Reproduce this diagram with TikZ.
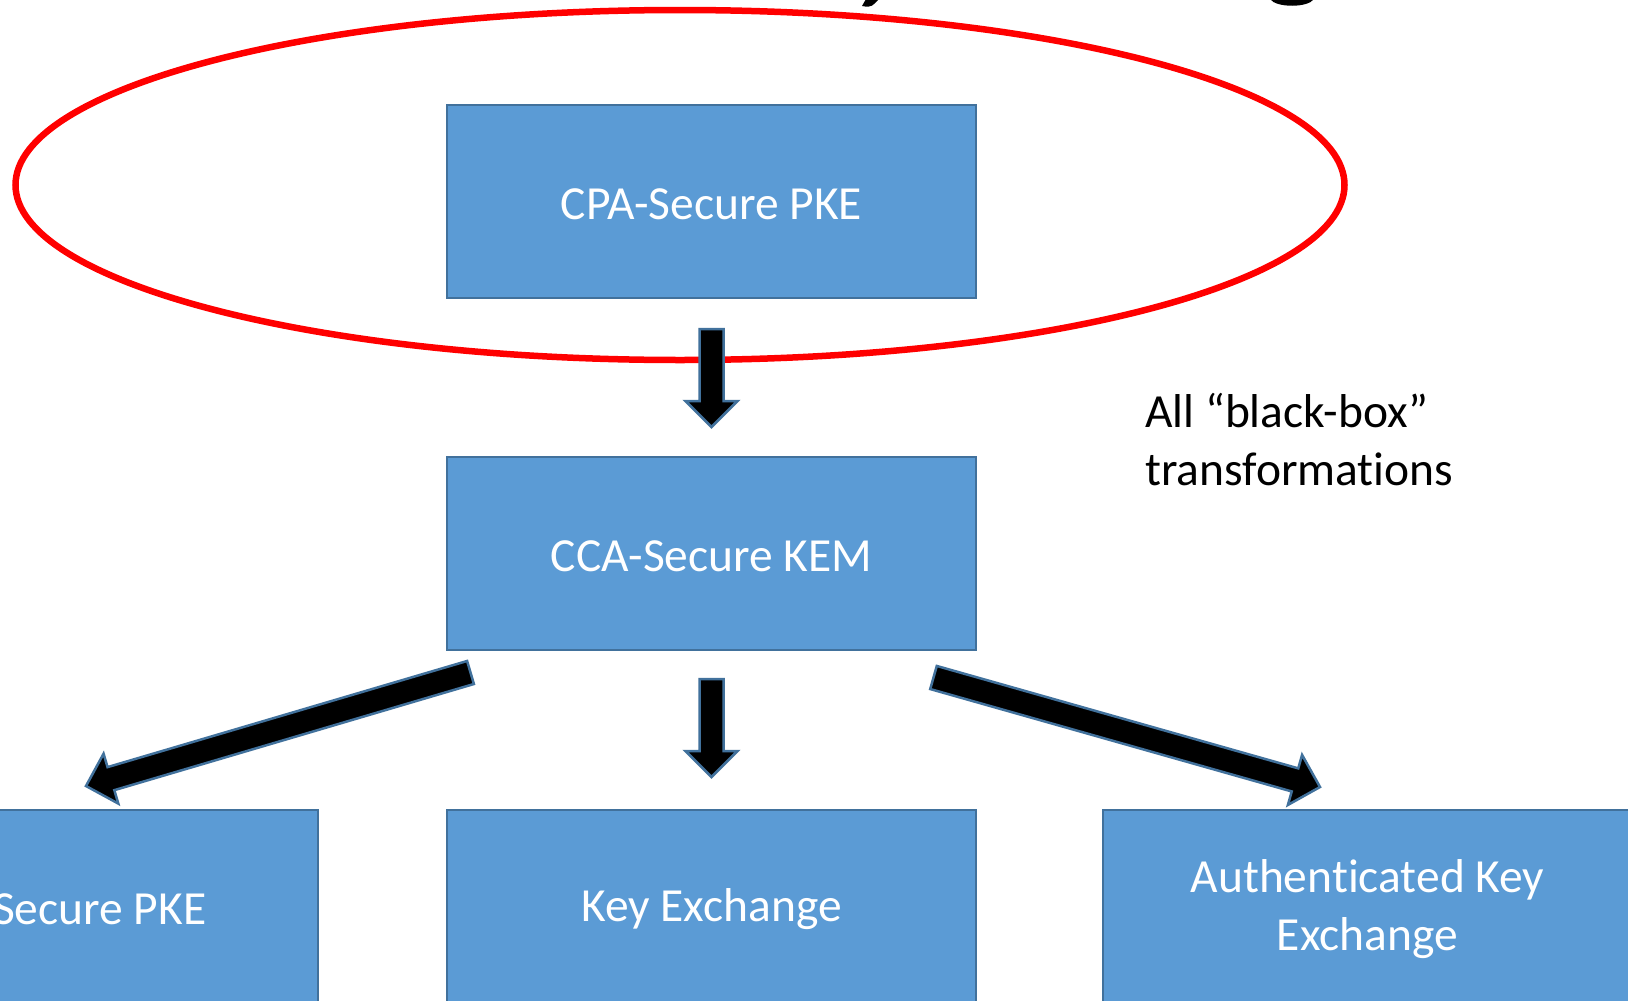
\documentclass[tikz,border=0pt]{standalone}
\usepackage{fontspec}
\setmainfont{Carlito}[Ligatures=NoCommon]
\usetikzlibrary{calc}

\definecolor{boxblue}{HTML}{5B9BD5}
\definecolor{edgeblue}{HTML}{41719C}

% lower a line of text a little while keeping its box size
\newcommand\lowered[1]{\raisebox{-3pt}[\height][\depth]{#1}}

\tikzset{
  stage/.style={rectangle, fill=boxblue, draw=edgeblue, line width=2pt,
    minimum width=529pt, minimum height=193pt, inner sep=0pt,
    text=white, align=center, font=\fontsize{47.5}{58}\selectfont},
  fatarrow/.style={fill=black, draw=edgeblue, line width=2.5pt, line join=miter},
  note/.style={inner sep=0pt, align=left, text=black,
    font=\fontsize{47.5}{58}\selectfont},
  ring/.style={draw=red, line width=6.5pt}
}

% block arrow from tail centre #1 to tip #2
\newcommand\fatarrowpath[2]{%
  \coordinate (hb) at ($(#2)!26pt!(#1)$);
  \draw[fatarrow]
    ($(#1)!12pt!90:(#2)$) -- ($(hb)!12pt!90:(#2)$) -- ($(hb)!26pt!90:(#2)$)
    -- (#2)
    -- ($(hb)!26pt!-90:(#2)$) -- ($(hb)!12pt!-90:(#2)$) -- ($(#1)!12pt!-90:(#2)$)
    -- cycle;
}

\begin{document}
\begin{tikzpicture}[x=1pt, y=-1pt]
  \clip (0,0) rectangle (1628,1001);
  \fill[white] (0,0) rectangle (1628,1001);

  % lower ends of the title glyphs above the frame
  \fill[black] (866,-1) -- (879,-1) -- (874,4) .. controls (872,7) and (866,7) .. (862,6) -- cycle;
  \fill[black] (1270,-1) .. controls (1276,8) and (1308,8) .. (1314,-1) -- cycle;

  % stages
  \node[stage] (cpa) at (711.5,201.5) {\lowered{CPA-Secure PKE}};
  \node[stage] (cca) at (711.5,553.5) {\lowered{CCA-Secure KEM}};
  \node[stage] (pke) at (53.5,906.5) {\lowered{CCA-Secure PKE}};
  \node[stage] (kex) at (711.5,906.5) {\lowered{Key Exchange}};
  \node[stage] (ake) at (1367.5,906.5) {\lowered{Authenticated Key}\\\lowered{Exchange}};

  % highlight round the starting point
  \draw[ring] (680,185) ellipse [x radius=664.5pt, y radius=175pt];

  % side remark (base anchor sits on the last line)
  \node[note, anchor=base west] (remark) at (1145,485)
    {All “black-box”\\transformations};

  % arrow end points
  \coordinate (a1s) at (711.5,329);
  \coordinate (a1e) at (711.5,427);
  \coordinate (a2s) at (711.5,679);
  \coordinate (a2e) at (711.5,777);
  \coordinate (a3s) at (470.5,672.5);
  \coordinate (a3e) at (86,786);
  \coordinate (a4s) at (933.5,677.5);
  \coordinate (a4e) at (1320,787);

  \fatarrowpath{a1s}{a1e}
  \fatarrowpath{a2s}{a2e}
  \fatarrowpath{a3s}{a3e}
  \fatarrowpath{a4s}{a4e}
\end{tikzpicture}
\end{document}
